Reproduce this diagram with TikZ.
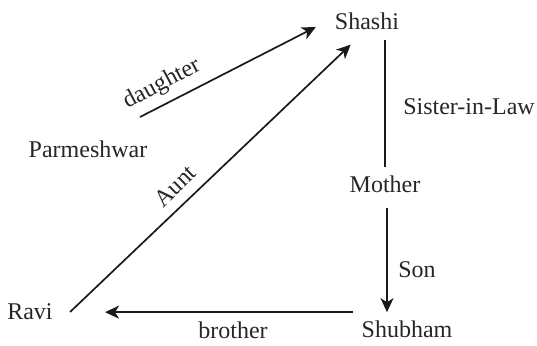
\documentclass[tikz,border=0pt]{standalone}
\usepackage{fontspec}
\setmainfont{Liberation Serif}
\usetikzlibrary{arrows.meta, calc}
\definecolor{inkline}{HTML}{1A1A1A}
\definecolor{inktext}{HTML}{262626}
\tikzset{
  person/.style={
    inner sep=4pt,
    font=\fontsize{12}{14}\selectfont,
    text=inktext
  },
  relation/.style={
    person,
    inner sep=0.5pt
  },
  rel/.style={
    -{Stealth[length=7pt, width=6.5pt, inset=2pt]},
    line width=0.85pt,
    draw=inkline
  },
  link/.style={
    line width=0.85pt,
    draw=inkline
  }
}
\begin{document}
\begin{tikzpicture}[x=0.5pt, y=-0.5pt]

% Fixed frame, in pixel units of the original sketch.
\useasboundingbox (0,0) rectangle (537,345);

% People.
\node[person] (shashi) at (367, 21.5) {Shashi};
\node[person] (parmeshwar) at (88, 149) {Parmeshwar};
\node[person] (mother) at (385, 184) {Mother};
\node[person] (ravi) at (30, 312) {Ravi};
\node[person] (shubham) at (407, 329) {Shubham};

% Free start of the daughter arrow.
\coordinate (daughterfrom) at (140, 117);

% Relations.
\draw[rel, shorten >=6pt] (daughterfrom) -- (shashi.west);
\draw[rel, shorten >=4.6pt] ([xshift=4.5pt]ravi.east) -- (shashi.240);
\draw[link, shorten <=1pt] (mother.north |- shashi.south) -- (mother.north);
\draw[rel, shorten <=3.4pt] ([xshift=1pt]mother.south) -- ([xshift=1pt]mother.south |- shubham.north);
\draw[rel, shorten >=22pt] (shubham.north west) -- (shubham.north west -| ravi.east);

% Relation labels.
\node[relation, rotate=28] (daughterlabel) at (162, 84) {daughter};
\node[relation, rotate=44] (auntlabel) at (175, 186) {Aunt};
\node[relation] (sisterlabel) at (469, 107) {Sister-in-Law};
\node[relation] (sonlabel) at (417, 270) {Son};
\node[relation] (brotherlabel) at (233, 330) {brother};

\end{tikzpicture}
\end{document}
